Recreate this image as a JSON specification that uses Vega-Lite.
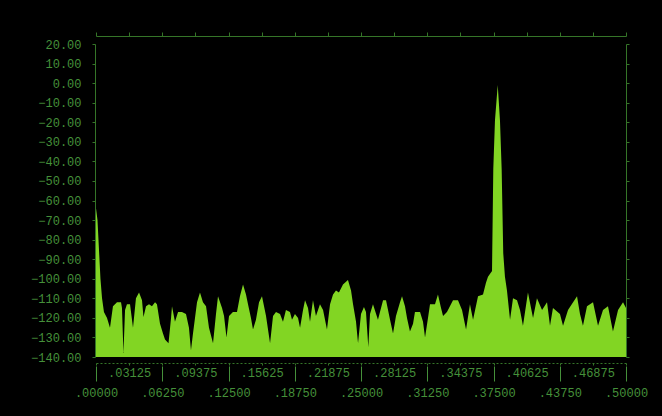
{
  "$schema": "https://vega.github.io/schema/vega-lite/v6.json",
  "width": 530,
  "height": 313,
  "autosize": {"type": "none"},
  "padding": {"left": 96, "top": 44, "right": 36, "bottom": 59},
  "background": "#000000",
  "config": {
    "view": {"stroke": null},
    "axis": {"labelFont": "Liberation Mono", "labelFontSize": 12, "labelColor": "#45903a", "domainColor": "#357528", "tickColor": "#357528", "grid": false, "title": null, "labelOverlap": false, "labelFlush": false}
  },
  "data": {"values": [
    {"f": 0, "db": -64}, {"f": 0.0014, "db": -70}, {"f": 0.0028, "db": -85}, {"f": 0.0042, "db": -100}, {"f": 0.0057, "db": -110},
    {"f": 0.0075, "db": -117}, {"f": 0.0104, "db": -120}, {"f": 0.0132, "db": -125}, {"f": 0.016, "db": -114}, {"f": 0.0198, "db": -112},
    {"f": 0.0236, "db": -112}, {"f": 0.0245, "db": -115}, {"f": 0.0259, "db": -138}, {"f": 0.0274, "db": -116}, {"f": 0.0292, "db": -113},
    {"f": 0.0321, "db": -113}, {"f": 0.0349, "db": -125}, {"f": 0.0377, "db": -110}, {"f": 0.0406, "db": -107}, {"f": 0.0434, "db": -111},
    {"f": 0.0448, "db": -119.5}, {"f": 0.0472, "db": -114}, {"f": 0.05, "db": -113}, {"f": 0.0528, "db": -114}, {"f": 0.0557, "db": -112},
    {"f": 0.0575, "db": -113}, {"f": 0.0604, "db": -123}, {"f": 0.0632, "db": -128}, {"f": 0.0651, "db": -131}, {"f": 0.0684, "db": -133},
    {"f": 0.0708, "db": -120}, {"f": 0.0717, "db": -114}, {"f": 0.0745, "db": -122}, {"f": 0.0774, "db": -117}, {"f": 0.0811, "db": -117},
    {"f": 0.0849, "db": -118}, {"f": 0.0877, "db": -125}, {"f": 0.0896, "db": -136.5}, {"f": 0.0915, "db": -128}, {"f": 0.0953, "db": -112},
    {"f": 0.0981, "db": -107}, {"f": 0.1009, "db": -112}, {"f": 0.1038, "db": -114}, {"f": 0.1066, "db": -125}, {"f": 0.1104, "db": -133},
    {"f": 0.1132, "db": -118}, {"f": 0.1151, "db": -109}, {"f": 0.1189, "db": -115}, {"f": 0.1208, "db": -119}, {"f": 0.1231, "db": -130},
    {"f": 0.1255, "db": -119}, {"f": 0.1292, "db": -117}, {"f": 0.133, "db": -117}, {"f": 0.1358, "db": -109}, {"f": 0.1387, "db": -103},
    {"f": 0.1415, "db": -108}, {"f": 0.1434, "db": -113}, {"f": 0.1462, "db": -120}, {"f": 0.1481, "db": -126}, {"f": 0.1509, "db": -121},
    {"f": 0.1538, "db": -112}, {"f": 0.1566, "db": -109}, {"f": 0.1604, "db": -119}, {"f": 0.1642, "db": -133}, {"f": 0.167, "db": -119},
    {"f": 0.1698, "db": -117}, {"f": 0.1736, "db": -118}, {"f": 0.1764, "db": -122}, {"f": 0.1792, "db": -116}, {"f": 0.183, "db": -117},
    {"f": 0.1849, "db": -121}, {"f": 0.1877, "db": -118}, {"f": 0.1906, "db": -120}, {"f": 0.1925, "db": -125}, {"f": 0.1953, "db": -116},
    {"f": 0.1972, "db": -111}, {"f": 0.2, "db": -115}, {"f": 0.2019, "db": -122}, {"f": 0.2047, "db": -111}, {"f": 0.2075, "db": -119},
    {"f": 0.2113, "db": -113}, {"f": 0.2142, "db": -116}, {"f": 0.2179, "db": -126}, {"f": 0.2208, "db": -113}, {"f": 0.2236, "db": -108},
    {"f": 0.2264, "db": -106}, {"f": 0.2292, "db": -107}, {"f": 0.233, "db": -103}, {"f": 0.2377, "db": -100.7}, {"f": 0.2406, "db": -106},
    {"f": 0.2425, "db": -113}, {"f": 0.2453, "db": -122}, {"f": 0.2472, "db": -133}, {"f": 0.25, "db": -118}, {"f": 0.2528, "db": -114.5},
    {"f": 0.2547, "db": -117}, {"f": 0.2569, "db": -135}, {"f": 0.2585, "db": -118}, {"f": 0.2613, "db": -113}, {"f": 0.266, "db": -121},
    {"f": 0.2708, "db": -111}, {"f": 0.2736, "db": -111}, {"f": 0.2774, "db": -121}, {"f": 0.2802, "db": -128}, {"f": 0.283, "db": -119},
    {"f": 0.2868, "db": -112}, {"f": 0.2887, "db": -109}, {"f": 0.2915, "db": -114}, {"f": 0.2934, "db": -120}, {"f": 0.2962, "db": -127},
    {"f": 0.2991, "db": -123}, {"f": 0.3009, "db": -117}, {"f": 0.3057, "db": -117}, {"f": 0.3085, "db": -122}, {"f": 0.3104, "db": -130},
    {"f": 0.3132, "db": -120}, {"f": 0.3151, "db": -113}, {"f": 0.3198, "db": -113}, {"f": 0.3226, "db": -108}, {"f": 0.3255, "db": -115},
    {"f": 0.3274, "db": -119}, {"f": 0.3311, "db": -117}, {"f": 0.3368, "db": -111}, {"f": 0.3415, "db": -111}, {"f": 0.3453, "db": -116},
    {"f": 0.3491, "db": -126}, {"f": 0.3528, "db": -113}, {"f": 0.3557, "db": -121}, {"f": 0.3604, "db": -109}, {"f": 0.3651, "db": -108},
    {"f": 0.3679, "db": -102}, {"f": 0.3698, "db": -99}, {"f": 0.3736, "db": -96}, {"f": 0.3748, "db": -44}, {"f": 0.3764, "db": -19},
    {"f": 0.379, "db": -1}, {"f": 0.3811, "db": -19}, {"f": 0.3827, "db": -44}, {"f": 0.3842, "db": -87}, {"f": 0.3858, "db": -99},
    {"f": 0.3877, "db": -106}, {"f": 0.3906, "db": -121}, {"f": 0.3934, "db": -110}, {"f": 0.3972, "db": -111}, {"f": 0.4, "db": -116},
    {"f": 0.4028, "db": -124}, {"f": 0.4075, "db": -107}, {"f": 0.4123, "db": -120}, {"f": 0.416, "db": -110}, {"f": 0.4208, "db": -116},
    {"f": 0.4255, "db": -112}, {"f": 0.4283, "db": -124}, {"f": 0.4311, "db": -115}, {"f": 0.4377, "db": -118}, {"f": 0.4406, "db": -124},
    {"f": 0.4453, "db": -116}, {"f": 0.4538, "db": -109}, {"f": 0.4566, "db": -118}, {"f": 0.4594, "db": -124}, {"f": 0.4632, "db": -114},
    {"f": 0.4689, "db": -112}, {"f": 0.4736, "db": -124}, {"f": 0.4783, "db": -116}, {"f": 0.483, "db": -114}, {"f": 0.4877, "db": -127},
    {"f": 0.4925, "db": -116}, {"f": 0.4972, "db": -112}, {"f": 0.5, "db": -115}
  ]},
  "layer": [
    {
      "mark": {"type": "area", "color": "#82d523", "interpolate": "linear"},
      "encoding": {
        "x": {"field": "f", "type": "quantitative", "scale": {"domain": [0, 0.5], "nice": false, "zero": false},
          "axis": {"orient": "bottom", "values": [0, 0.0625, 0.125, 0.1875, 0.25, 0.3125, 0.375, 0.4375, 0.5],
            "labelExpr": "substring(format(datum.value, '.5f'), 1)", "ticks": false, "tickSize": 0, "domain": false,
            "labelPadding": 35, "labelBaseline": "middle"}},
        "y": {"field": "db", "type": "quantitative", "stack": null, "scale": {"domain": [-140, 20], "nice": false, "zero": false},
          "axis": {"orient": "left", "values": [-140, -130, -120, -110, -100, -90, -80, -70, -60, -50, -40, -30, -20, -10, 0, 10, 20],
            "format": ".2f", "offset": 1, "tickSize": 3, "labelPadding": 11, "labelBaseline": "middle"}},
        "y2": {"datum": -140}
      }
    },
    {
      "mark": {"type": "line", "strokeOpacity": 0},
      "encoding": {
        "x": {"field": "f", "type": "quantitative", "scale": {"domain": [0, 0.5], "nice": false, "zero": false},
          "axis": {"orient": "bottom", "values": [0.03125, 0.09375, 0.15625, 0.21875, 0.28125, 0.34375, 0.40625, 0.46875],
            "labelExpr": "substring(format(datum.value, '.5f'), 1)", "ticks": false, "tickSize": 0, "domain": false,
            "labelPadding": 15, "labelBaseline": "middle"}},
        "y": {"field": "db", "type": "quantitative", "scale": {"domain": [-140, 20], "nice": false, "zero": false},
          "axis": {"orient": "right", "values": [-140, -130, -120, -110, -100, -90, -80, -70, -60, -50, -40, -30, -20, -10, 0, 10, 20],
            "labels": false, "offset": 0, "tickSize": 3}}
      }
    },
    {
      "mark": {"type": "line", "strokeOpacity": 0},
      "encoding": {
        "x": {"field": "f", "type": "quantitative", "scale": {"domain": [0, 0.5], "nice": false, "zero": false},
          "axis": {"orient": "top", "offset": 8, "labels": false, "tickSize": 4,
            "values": [0, 0.03125, 0.0625, 0.09375, 0.125, 0.15625, 0.1875, 0.21875, 0.25, 0.28125, 0.3125, 0.34375, 0.375, 0.40625, 0.4375, 0.46875, 0.5]}},
        "y": {"field": "db", "type": "quantitative", "scale": {"domain": [-140, 20], "nice": false, "zero": false}, "axis": null}
      }
    },
    {
      "mark": {"type": "line", "strokeOpacity": 0},
      "encoding": {
        "x": {"field": "f", "type": "quantitative", "scale": {"domain": [0, 0.5], "nice": false, "zero": false},
          "axis": {"orient": "bottom", "offset": 6, "labels": false, "tickSize": 2, "domainDash": [2, 2],
            "values": [0, 0.03125, 0.0625, 0.09375, 0.125, 0.15625, 0.1875, 0.21875, 0.25, 0.28125, 0.3125, 0.34375, 0.375, 0.40625, 0.4375, 0.46875, 0.5]}},
        "y": {"field": "db", "type": "quantitative", "scale": {"domain": [-140, 20], "nice": false, "zero": false}, "axis": null}
      }
    },
    {
      "mark": {"type": "line", "strokeOpacity": 0},
      "encoding": {
        "x": {"field": "f", "type": "quantitative", "scale": {"domain": [0, 0.5], "nice": false, "zero": false},
          "axis": {"orient": "bottom", "offset": 9, "labels": false, "domain": false, "tickSize": 15, "tickColor": "#45903a",
            "values": [0, 0.0625, 0.125, 0.1875, 0.25, 0.3125, 0.375, 0.4375, 0.5]}},
        "y": {"field": "db", "type": "quantitative", "scale": {"domain": [-140, 20], "nice": false, "zero": false}, "axis": null}
      }
    }
  ],
  "resolve": {"axis": {"x": "independent", "y": "independent"}}
}
